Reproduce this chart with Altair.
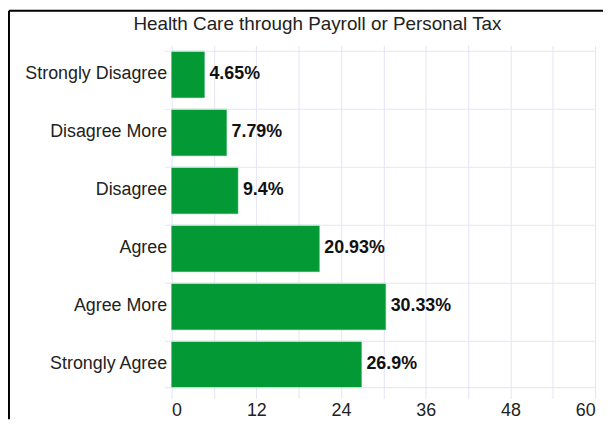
import altair as alt
import pandas as pd

title_text = "Health Care through Payroll or Personal Tax"
categories = ["Strongly Disagree", "Disagree More", "Disagree", "Agree", "Agree More", "Strongly Agree"]
values = [4.65, 7.79, 9.4, 20.93, 30.33, 26.9]
labels = ["4.65%", "7.79%", "9.4%", "20.93%", "30.33%", "26.9%"]
x_ticks = [0, 6, 12, 18, 24, 30, 36, 42, 48, 54, 60]

df = pd.DataFrame({"cat": categories, "value": values, "label": labels})

GREEN = "#039935"
GRID = "#e4e4f8"
W, H = 427, 351
FONT = "Liberation Sans"
FS = 18

yscale = alt.Scale(domain=categories, paddingInner=0.2, paddingOuter=0.1)
yaxis = alt.Axis(ticks=False, domain=False, grid=False, labelFontSize=FS,
                 labelColor="#222222", labelPadding=5, labelFont=FONT,
                 minExtent=164, maxExtent=164)
xaxis = alt.Axis(values=x_ticks, grid=True, gridColor=GRID, tickColor=GRID,
                 tickSize=5, domain=False, labelFontSize=FS, labelColor="#222222",
                 labelPadding=3, labelFont=FONT,
                 labelExpr="datum.value % 12 == 0 ? datum.label : ''")
xscale = alt.Scale(domain=[0, 60], nice=False)

base = alt.Chart(df)

bars = base.mark_bar(color=GREEN, stroke="#3fb464", strokeWidth=0.6).encode(
    y=alt.Y("cat:N", scale=yscale, sort=categories, title=None, axis=yaxis),
    x=alt.X("value:Q", scale=xscale, title=None, axis=xaxis),
)

text = base.mark_text(align="left", baseline="middle", dx=5, fontSize=FS,
                      fontWeight="bold", color="#111111", font=FONT).encode(
    y=alt.Y("cat:N", scale=yscale, sort=categories, title=None, axis=yaxis),
    x=alt.X("value:Q", scale=xscale, title=None, axis=xaxis),
    text="label:N",
)

grid_top = base.mark_rule(color=GRID, strokeWidth=1).encode(
    y=alt.Y("cat:N", scale=yscale, bandPosition=0, sort=categories, title=None, axis=yaxis),
    x=alt.value(-7), x2=alt.value(W),
)
grid_bottom = alt.Chart(df.tail(1)).mark_rule(color=GRID, strokeWidth=1).encode(
    y=alt.Y("cat:N", scale=yscale, bandPosition=1, sort=categories, title=None, axis=yaxis),
    x=alt.value(-7), x2=alt.value(W),
)

title = alt.Chart(df.head(1)).mark_text(
    align="center", baseline="alphabetic", fontSize=19, color="#222222", font=FONT
).encode(x=alt.value(147), y=alt.value(-16), text=alt.value(title_text))

border_left = alt.Chart(df.head(1)).mark_rule(color="black", strokeWidth=2).encode(
    x=alt.value(-164), y=alt.value(-35), y2=alt.value(H + 26),
)
border_top = alt.Chart(df.head(1)).mark_rule(color="black", strokeWidth=2).encode(
    x=alt.value(-164), x2=alt.value(W + 8), y=alt.value(-35),
)

chart = alt.layer(bars, grid_top, grid_bottom, text, title, border_left, border_top).properties(
    width=W, height=H,
    padding=0,
).configure_view(stroke=None)

chart.save("out.html", embed_options={"renderer": "svg", "actions": False})
